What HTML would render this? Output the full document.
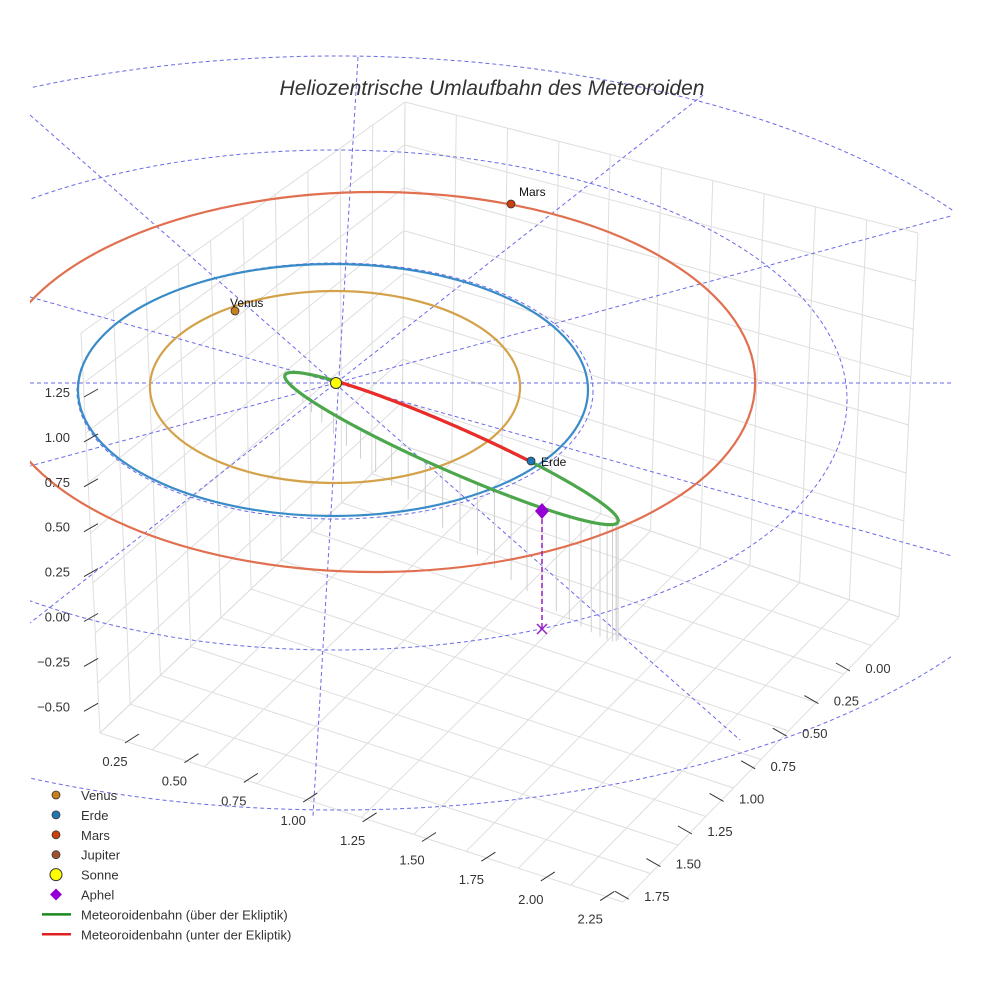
<!DOCTYPE html>
<html><head><meta charset="utf-8"><style>
body{margin:0;background:#fff}
svg{display:block;font-family:"Liberation Sans",sans-serif}
</style></head><body>
<svg id="c" width="984" height="984" viewBox="0 0 984 984">
<defs><clipPath id="clip"><rect x="30" y="0" width="923" height="984"/></clipPath></defs>
<g clip-path="url(#clip)">
<g id="grid"></g>
<g id="guides"></g>
<g id="drops"></g>
<g id="orbits"></g>
</g>
<g id="met"></g>
<g id="ticks"></g>
<text x="492" y="95" text-anchor="middle" font-size="21" font-style="italic" fill="#333">Heliozentrische Umlaufbahn des Meteoroiden</text>
<g id="legend"></g>
</svg>
<script>
const planetNames=["Venus","Erde","Mars"];
const planetRadii=[0.72,1.0,1.5];
const planetColors=["#d4a24a","#3a8cc8","#e07050"];
const zTicks=["1.25","1.00","0.75","0.50","0.25","0.00","−0.25","−0.50"];
const xTicks=["0.25","0.50","0.75","1.00","1.25","1.50","1.75","2.00","2.25"];
const yTicks=["0.00","0.25","0.50","0.75","1.00","1.25","1.50","1.75"];
const metA=1.0, metB=0.12;

const NS="http://www.w3.org/2000/svg";
function mk(p,tag,at){const e=document.createElementNS(NS,tag);for(const k in at)e.setAttribute(k,at[k]);p.appendChild(e);return e;}
const K=255;
// layout: center x, center y, horizontal scale, vertical radius per orbit (perspective)
const orbitCenters=[[335,387,1.008,96],[333,390,1,126],[375,382,0.994,190]];

// grid
const G=document.getElementById('grid');
function L(p,a,b,c,w){return mk(p,'line',{x1:a[0],y1:a[1],x2:b[0],y2:b[1],stroke:c,'stroke-width':w||1});}
function lerp(a,b,t){return [a[0]+(b[0]-a[0])*t,a[1]+(b[1]-a[1])*t];}
const A=[100,733],B=[623,902],C=[899,617],D=[402,445];
const At=[81,333],Dt=[405,102],Ct=[918,233];
const gc='#dedede';
for(let i=0;i<=10;i++){const t=i/10;
 L(G,lerp(A,B,t),lerp(D,C,t),gc);
 L(G,lerp(A,D,t),lerp(B,C,t),gc);
 L(G,lerp(D,C,t),lerp(Dt,Ct,t),gc);
 L(G,lerp(A,D,t),lerp(At,Dt,t),gc);}
for(let i=0;i<=8;i++){const t=i/8;
 L(G,lerp(D,Dt,t),lerp(C,Ct,t),gc);
 L(G,lerp(D,Dt,t),lerp(A,At,t),gc);}

// guides
const Gu=document.getElementById('guides');
const ds={fill:'none',stroke:'#6a6ae8','stroke-width':1,'stroke-dasharray':'4,3'};
mk(Gu,'ellipse',Object.assign({cx:337,cy:433,rx:763,ry:377},ds));
mk(Gu,'ellipse',Object.assign({cx:335,cy:400,rx:512,ry:250},ds));
mk(Gu,'ellipse',Object.assign({cx:335,cy:391,rx:258,ry:128},ds));
[[30,383,984,383],[30,115,740,740],[358,57,313,816],[703,95,30,623],[984,207,30,466],[30,297,984,565]].forEach(l=>mk(Gu,'line',Object.assign({x1:l[0],y1:l[1],x2:l[2],y2:l[3]},ds)));

// planet orbits
const O=document.getElementById('orbits');
planetRadii.forEach((r,i)=>{
 const oc=orbitCenters[i];
 const e=mk(O,'ellipse',{cx:oc[0],cy:oc[1],rx:K*r*oc[2],ry:oc[3],fill:'none',stroke:planetColors[i],'stroke-width':2.2});
 
 
});
// meteoroid orbit
const M=document.getElementById('met'),Dr=document.getElementById('drops');
const mcx=451.5,mcy=448.5,ma=182*metA,mb=22*metB/0.12,rot=23.8*Math.PI/180;
function mp(t){const x=ma*Math.cos(t),y=mb*Math.sin(t);return [mcx+x*Math.cos(rot)-y*Math.sin(rot),mcy+x*Math.sin(rot)+y*Math.cos(rot)];}
let g=[],r=[];
const tS=Math.PI+Math.acos(0.725), tE=2*Math.PI-Math.acos(0.427);
for(let i=0;i<=360;i++){const t=i/360*2*Math.PI;const p=mp(t);
 if(t>=tS-0.02&&t<=tE) r.push(p); g.push(p);
 if(i%6==0 && Math.sin(t)>-0.3){const h=Math.max(0,118*(Math.cos(t)+1)/2);L(Dr,p,[p[0],p[1]+h],'#cfcfcf',1);}}
const gp=mk(M,'polyline',{points:g.map(p=>p.join(',')).join(' '),fill:'none',stroke:'#4ca64c','stroke-width':3.2});

const rp=mk(M,'polyline',{points:r.map(p=>p.join(',')).join(' '),fill:'none',stroke:'#ee2a2a','stroke-width':3.2});

// aphel
mk(M,'line',{x1:542,y1:511,x2:542,y2:629,stroke:'#9a20c0','stroke-width':1.5,'stroke-dasharray':'5,3'});
const ap=mk(M,'path',{d:'M542,503 L549,511 L542,519 L535,511Z',fill:'#9400d3'});

mk(M,'path',{d:'M537,624 L547,634 M547,624 L537,634',stroke:'#9a20c0','stroke-width':1.5});
// planets
const pm=[[235,311],[531,461],[511,204]];
planetNames.forEach((n,i)=>{
 const c=mk(M,'circle',{cx:pm[i][0],cy:pm[i][1],r:4,fill:['#c8801c','#1f77b4','#cc4010'][i],stroke:'#333','stroke-width':0.8});
 
 const tx=[[230,307],[541,466],[519,196]][i];
 const t=mk(M,'text',{x:tx[0],y:tx[1],'font-size':12,fill:'#111'});t.textContent=n;
 
});
const sun=mk(M,'circle',{cx:336,cy:383,r:5.5,fill:'#ffff00',stroke:'#333','stroke-width':1});


// ticks
const T=document.getElementById('ticks');
zTicks.forEach((s,i)=>{const y=393+i*44.9;
 const t=mk(T,'text',{x:70,y:y+4,'font-size':13,fill:'#333','text-anchor':'end'});t.textContent=s;
 
 L(T,[84,y+4],[98,y-4],'#333',1);});
xTicks.forEach((s,i)=>{const x=115+i*59.4,y=766+i*19.7;
 const t=mk(T,'text',{x:x,y:y,'font-size':13,fill:'#333','text-anchor':'middle'});t.textContent=s;
 
 L(T,[x+10,y-23],[x+24,y-32],'#333',1);});
yTicks.forEach((s,i)=>{const x=878-i*31.6,y=673+i*32.6;
 const t=mk(T,'text',{x:x,y:y,'font-size':13,fill:'#333','text-anchor':'middle'});t.textContent=s;
 
 L(T,[x-42,y-10],[x-28,y-2],'#333',1);});

// legend
const Lg=document.getElementById('legend');
const legNames=["Venus","Erde","Mars","Jupiter","Sonne","Aphel","Meteoroidenbahn (über der Ekliptik)","Meteoroidenbahn (unter der Ekliptik)"];
legNames.forEach((n,i)=>{const y=795+i*19.9;
 let m;
 if(i<4)m=mk(Lg,'circle',{cx:56,cy:y,r:4,fill:['#c8801c','#1f77b4','#cc4010','#a0522d'][i],stroke:'#333','stroke-width':0.8});
 else if(i==4)m=mk(Lg,'circle',{cx:56,cy:y,r:6,fill:'#ffff00',stroke:'#333','stroke-width':1});
 else if(i==5)m=mk(Lg,'path',{d:`M56,${y-6} L62,${y} L56,${y+6} L50,${y}Z`,fill:'#9400d3'});
 else m=mk(Lg,'line',{x1:42,y1:y,x2:71,y2:y,stroke:i==6?'#1a8a1a':'#e02020','stroke-width':2.5});
 const t=mk(Lg,'text',{x:81,y:y+5,'font-size':13,fill:'#333'});t.textContent=n;
 
});
</script>
</body></html>
